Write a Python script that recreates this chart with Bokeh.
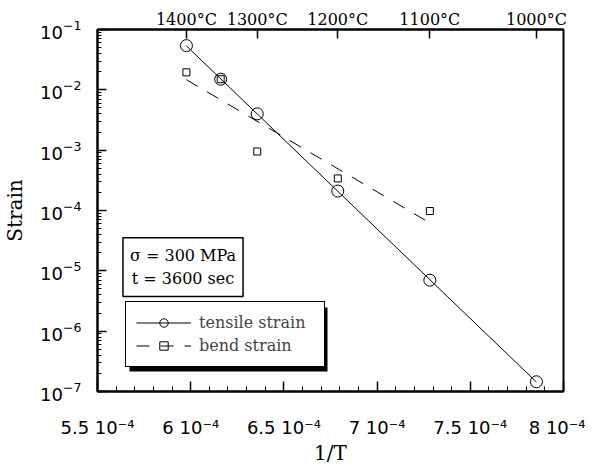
import numpy as np
from bokeh.plotting import figure
from bokeh.models import (LinearAxis, FixedTicker, CustomJSTickFormatter, LogTickFormatter,
                          Legend, LegendItem, Label, BoxAnnotation)
from bokeh.embed import file_html
from bokeh.resources import INLINE

# ---------------- data ----------------
inv_T = [5.977e-4, 6.161e-4, 6.357e-4, 6.789e-4, 7.283e-4, 7.855e-4]
tensile_strain = [5.4e-2, 1.5e-2, 4.0e-3, 2.1e-4, 7.0e-6, 1.45e-7]

bend_inv_T = [5.977e-4, 6.161e-4, 6.357e-4, 6.789e-4, 7.283e-4]
bend_strain = [1.95e-2, 1.5e-2, 9.5e-4, 3.4e-4, 9.8e-5]

temp_labels = ["1400°C", "1300°C", "1200°C", "1100°C", "1000°C"]
temp_inv_T = [5.977e-4, 6.357e-4, 6.789e-4, 7.283e-4, 7.855e-4]

x_ticks = [5.5e-4, 6.0e-4, 6.5e-4, 7.0e-4, 7.5e-4, 8.0e-4]
y_ticks = [1e-7, 1e-6, 1e-5, 1e-4, 1e-3, 1e-2, 1e-1]

x_minor = [round(5.5e-4 + i * 1e-5, 8) for i in range(26)]
y_minor = [k * 10.0 ** e for e in range(-7, -1) for k in range(2, 10)]

SERIF = "DejaVu Serif"
SANS = "DejaVu Sans"

X0, X1 = 5.5e-4, 8.0e-4
LY0, LY1 = -7, -1
FW, FH = 466, 362

p = figure(frame_width=FW, frame_height=FH,
           x_range=(X0, X1), y_range=(10.0 ** LY0, 10.0 ** LY1), y_axis_type="log",
           output_backend="svg", toolbar_location=None,
           min_border_left=94, min_border_right=22, min_border_top=29, min_border_bottom=68)
p.grid.visible = False
p.outline_line_color = "black"
p.outline_line_width = 2
p.background_fill_color = "white"
p.border_fill_color = "white"

# x axis
xa = p.xaxis[0]
xa.ticker = FixedTicker(ticks=x_ticks, minor_ticks=x_minor)
xa.formatter = CustomJSTickFormatter(code="const v = Math.round(tick*1e5)/10; return v + ' 10⁻⁴';")
xa.major_tick_in = 10
xa.major_tick_out = 0
xa.minor_tick_in = 5
xa.minor_tick_out = 0
xa.major_tick_line_width = 1.5
xa.axis_line_width = 2
xa.major_label_standoff = 25
xa.major_label_text_font = SANS
xa.major_label_text_font_size = "18px"
xa.major_label_text_color = "black"
xa.axis_label = "1/T"
xa.axis_label_text_font = SERIF
xa.axis_label_text_font_size = "20px"
xa.axis_label_text_font_style = "normal"
xa.axis_label_text_color = "black"
xa.axis_label_standoff = 0

# y axis
ya = p.yaxis[0]
ya.ticker = FixedTicker(ticks=y_ticks, minor_ticks=y_minor)
ya.formatter = LogTickFormatter()
ya.major_tick_in = 9
ya.major_tick_out = 0
ya.minor_tick_in = 4
ya.minor_tick_out = 0
ya.major_tick_line_width = 1.5
ya.axis_line_width = 2
ya.major_label_standoff = 16
ya.major_label_text_font = SANS
ya.major_label_text_font_size = "18px"
ya.major_label_text_color = "black"
ya.axis_label = "Strain"
ya.axis_label_text_font = SERIF
ya.axis_label_text_font_size = "20px"
ya.axis_label_text_font_style = "normal"
ya.axis_label_text_color = "black"
ya.axis_label_standoff = 10

# top temperature axis
top = LinearAxis(
    ticker=FixedTicker(ticks=temp_inv_T, minor_ticks=[]),
    formatter=CustomJSTickFormatter(args=dict(pos=temp_inv_T, lab=temp_labels), code="""
        let best = 0, bd = Infinity;
        for (let i = 0; i < pos.length; i++) {
            const d = Math.abs(pos[i] - tick);
            if (d < bd) { bd = d; best = i; }
        }
        return lab[best];
    """))
top.major_tick_in = 9
top.major_tick_out = 0
top.minor_tick_in = 0
top.minor_tick_out = 0
top.major_tick_line_width = 1.5
top.axis_line_width = 2
top.major_label_standoff = 1
top.major_label_text_font = SERIF
top.major_label_text_font_size = "16px"
top.major_label_text_color = "black"
p.add_layout(top, "above")

# fits (log-linear regression of each series)
tc = np.polyfit(inv_T, np.log10(tensile_strain), 1)
tx = [min(inv_T), max(inv_T)]
ty = [10 ** np.polyval(tc, v) for v in tx]
bc = np.polyfit(bend_inv_T, np.log10(bend_strain), 1)
bx = [min(bend_inv_T), max(bend_inv_T)]
by = [10 ** np.polyval(bc, v) for v in bx]

t_line = p.line(tx, ty, line_color="black", line_width=1)
t_pts = p.scatter(inv_T, tensile_strain, marker="circle", size=12,
                  fill_alpha=0, line_color="black", line_width=1)
b_line = p.line(bx, by, line_color="black", line_width=1, line_dash="13 11")
b_pts = p.scatter(bend_inv_T, bend_strain, marker="square", size=7,
                  fill_alpha=0, line_color="black", line_width=1)


def fx(px):
    return X0 + px / FW * (X1 - X0)


def fy(py):
    return 10.0 ** (LY0 + py / FH * (LY1 - LY0))


# legend geometry (frame pixels, from bottom-left)
LX, LYB = 28, 24
PAD, GW, GH, LSO, LW, SP = 10, 55, 21, 8, 115, 2
W = 2 * PAD + GW + LSO + LW
H = 2 * PAD + 2 * GH + SP
SH = 4

shadow = BoxAnnotation(left=fx(LX + SH), right=fx(LX + W + SH),
                       bottom=fy(LYB - SH), top=fy(LYB + H - SH),
                       fill_color="black", fill_alpha=1, line_alpha=0)
p.add_layout(shadow)

legend = Legend(items=[LegendItem(label="tensile strain", renderers=[t_line, t_pts]),
                       LegendItem(label="bend strain", renderers=[b_line, b_pts])],
                location=(LX, LYB), orientation="vertical",
                border_line_color="black", border_line_width=1.5, border_line_alpha=1,
                background_fill_color="white", background_fill_alpha=1,
                label_text_font=SERIF, label_text_font_size="16px",
                glyph_width=GW, glyph_height=GH, label_height=GH, label_width=LW,
                spacing=SP, padding=PAD, margin=0, label_standoff=LSO)
p.add_layout(legend)

note = Label(x=fx(85.5), y=fy(124.5), text="σ = 300 MPa\nt = 3600 sec",
             text_align="center", text_baseline="middle",
             text_font=SERIF, text_font_size="16px", text_color="black",
             text_line_height=1.25,
             border_line_color="black", border_line_width=1.5,
             background_fill_color="white", padding=(7, 8))
p.add_layout(note)

open("out.html", "w").write(file_html(p, INLINE))
